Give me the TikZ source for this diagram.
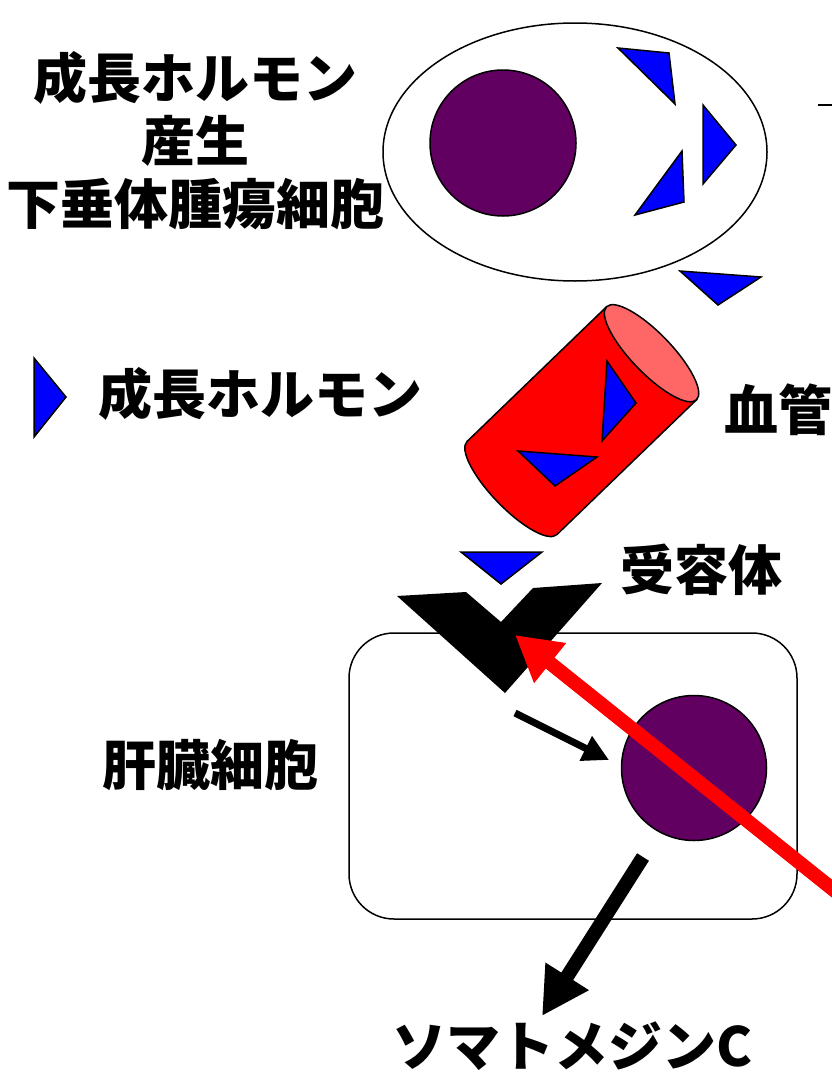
\documentclass[tikz,border=0pt]{standalone}
\usepackage{fontspec}
\setmainfont{Noto Sans CJK JP}
\usetikzlibrary{arrows.meta,shapes.geometric}
\definecolor{nucleus}{RGB}{98,0,98}
\definecolor{hormone}{RGB}{0,0,255}
\definecolor{vessel}{RGB}{255,0,0}
\definecolor{vesselend}{RGB}{255,102,102}
\begin{document}
\begin{tikzpicture}[x=1pt,y=-1pt,
  lbl/.style={font=\bfseries\fontsize{54}{63}\selectfont, inner sep=0pt, align=center},
  outline/.style={draw=black, line width=1.5pt},
  hormonetri/.style={fill=hormone, draw=black, line width=1.5pt, line join=miter},
  nucleusdisc/.style={circle, fill=nucleus, draw=black, line width=1.5pt, inner sep=0pt},
  signal/.style={line width=7pt, -{Triangle[length=26pt,width=26pt]}},
  bigsignal/.style={line width=14pt, -{Triangle[length=47pt,width=48pt]}},
  redsignal/.style={vessel, line width=14pt, -{Triangle[length=45pt,width=48pt]}}]
\useasboundingbox (0,0) rectangle (831,1076);

% pituitary tumour cell
\node[ellipse, outline, minimum width=384pt, minimum height=258pt, inner sep=0pt] (tumour) at (575,152) {};
\node[nucleusdisc, minimum size=146pt] (tnuc) at (503,143) {};
\filldraw[hormonetri] (618,48) -- (669,53) -- (675,104) -- cycle;
\filldraw[hormonetri] (703,105) -- (736,145) -- (703,184) -- cycle;
\filldraw[hormonetri] (682,151) -- (684,202) -- (635,215) -- cycle;
\filldraw[hormonetri] (680,271) -- (761,277) -- (718,305) -- cycle;
\draw[line width=2pt] (818,105) -- (835,105);

\node[lbl] (tumourlbl) at (195,141) {成長ホルモン\\産生\\下垂体腫瘍細胞};

% legend
\filldraw[hormonetri] (34,358) -- (66,397) -- (34,437) -- cycle;
\node[lbl] (legendlbl) at (260,394) {成長ホルモン};

% blood vessel
\begin{scope}[shift={(512,488)}, rotate=44]
  \filldraw[fill=vessel, outline] (0,-64.7) arc[start angle=270, end angle=90, x radius=20, y radius=64.7]
    -- (194,64.7) -- (194,-64.7) -- cycle;
  \filldraw[fill=vesselend, outline] (194,0) ellipse [x radius=20, y radius=64.7];
\end{scope}
\filldraw[hormonetri] (607,361) -- (636,403) -- (602,441) -- cycle;
\filldraw[hormonetri] (518,451) -- (597,457) -- (555,486) -- cycle;
\node[lbl] (vessellbl) at (778,410) {血管};

% receptor and bound hormone
\filldraw[hormonetri] (461,552) -- (542,552) -- (501,584) -- cycle;
\node[lbl] (receptorlbl) at (701,570) {受容体};

% liver cell
\draw[outline, rounded corners=45pt] (349,633) rectangle (797,919);
\fill[black] (397,596) -- (466,592) -- (501,622) -- (533,588) -- (602,583) -- (505,693) -- cycle;
\node[nucleusdisc, minimum size=145pt] (lnuc) at (694,768) {};
\node[lbl] (liverlbl) at (210,765) {肝臓細胞};

% signalling arrows
\coordinate (innerstart) at (515,713);
\coordinate (innerend) at (609,760);
\draw[signal] (innerstart) -- (innerend);

\coordinate (redstart) at (850,903);
\coordinate (redtip) at (515,635);
\draw[redsignal] (redstart) -- (redtip);

\coordinate (outstart) at (643,857);
\coordinate (outtip) at (542,1016);
\draw[bigsignal] (outstart) -- (outtip);

\node[lbl] (somatomedin) at (573,1046) {ソマトメジンC};
\end{tikzpicture}
\end{document}
